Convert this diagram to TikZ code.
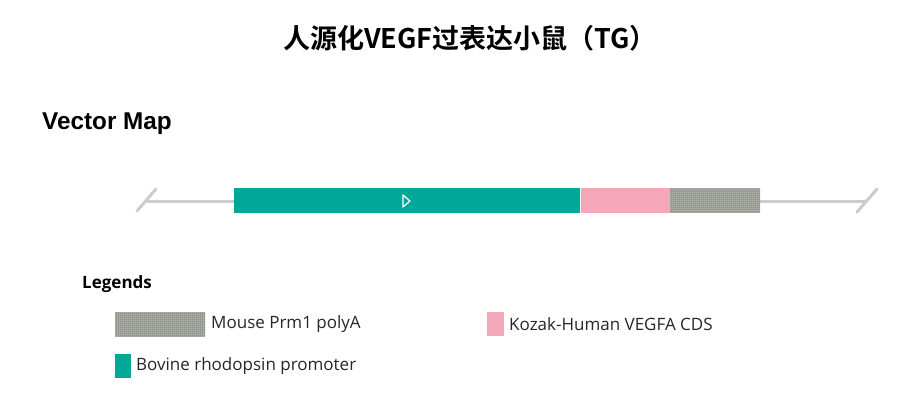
\documentclass[tikz,border=0pt]{standalone}
\usepackage{fontspec}
\setmainfont{Liberation Sans}
\newfontfamily\cjkbold[BoldFont={Noto Sans CJK SC Bold}]{Noto Sans CJK SC}
\newfontfamily\legfont{Open Sans}
\definecolor{teal}{RGB}{0,168,152}
\definecolor{pinkbox}{RGB}{244,167,185}
\definecolor{hatch}{RGB}{138,142,134}
\definecolor{hatchlight}{RGB}{165,168,160}
\definecolor{bbone}{RGB}{204,204,204}
\tikzset{
  backbone/.style={draw=bbone, line width=3pt},
  legtext/.style={anchor=west, inner sep=0pt, font=\legfont\fontsize{17}{20}\selectfont, text=black!85},
}
\begin{document}
\begin{tikzpicture}[x=1pt,y=-1pt]
\useasboundingbox (0,0) rectangle (923,401);
% title
\node[font=\cjkbold\bfseries\fontsize{27}{31}\selectfont] (title) at (470,38) {人源化VEGF过表达小鼠（TG）};
\node[anchor=west, inner sep=0pt, font=\bfseries\fontsize{24.3}{28}\selectfont] (vm) at (42,124) {Vector Map};
% backbone
\coordinate (L) at (147,201);
\coordinate (R) at (866,201);
\draw[backbone] (L) -- (234,201);
\draw[backbone] (760,201) -- (R);
\draw[backbone, line cap=round] (137,211) -- (156,189);
\draw[backbone, line cap=round] (857,212) -- (877,189);
% blocks
\fill[teal] (234,188) rectangle (580,213);
\fill[pinkbox] (581,188) rectangle (670,213);
\fill[hatch] (670,188) rectangle (760,213);
\begin{scope}
\clip (670,188) rectangle (760,213);
\foreach \i in {0,2,...,90} \draw[hatchlight, line width=0.4pt] (670+\i,188) -- (670+\i,213);
\foreach \j in {0,2,...,26} \draw[hatchlight, line width=0.4pt] (670,188+\j) -- (760,188+\j);
\end{scope}
\draw[white, line width=1.2pt, line join=round] (403,195) -- (410,201) -- (403,207) -- cycle;
% legends
\node[anchor=west, inner sep=0pt, font=\legfont\bfseries\fontsize{17}{20}\selectfont] (leg) at (82,284) {Legends};
\fill[hatch] (115,312) rectangle (205,336);
\begin{scope}
\clip (115,312) rectangle (205,336);
\foreach \i in {0,2,...,90} \draw[hatchlight, line width=0.4pt] (115+\i,312) -- (115+\i,336);
\foreach \j in {0,2,...,24} \draw[hatchlight, line width=0.4pt] (115,312+\j) -- (205,312+\j);
\end{scope}
\node[legtext] (t1) at (211,324) {Mouse Prm1 polyA};
\fill[pinkbox] (487,312) rectangle (504,336);
\node[legtext] (t2) at (509,324) {Kozak-Human VEGFA CDS};
\fill[teal] (115,354) rectangle (131,378);
\node[legtext] (t3) at (136,366) {Bovine rhodopsin promoter};
\end{tikzpicture}
\end{document}
